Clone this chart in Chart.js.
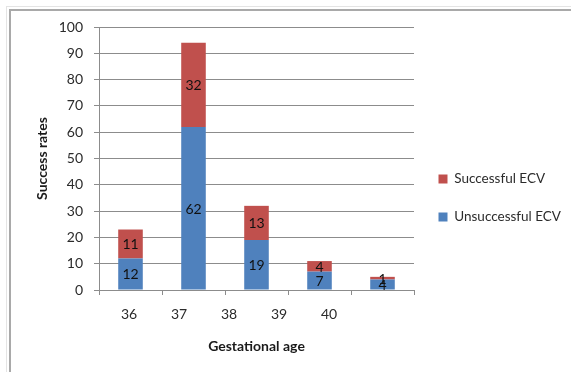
<!DOCTYPE html>
<html>
<head>
<meta charset="utf-8">
<script src="https://cdn.jsdelivr.net/npm/chart.js@4/dist/chart.umd.min.js"></script>
<style>
  html, body { margin: 0; padding: 0; background: #ffffff; }
  #wrap { position: relative; width: 571px; height: 372px; overflow: hidden; }
  .edge { position: absolute; }
  #outerTop { left: 6px; top: 6px; right: 0; height: 1px; background: #e4e4e4; }
  #outerLeft { left: 6px; top: 6px; bottom: 0; width: 1px; background: #e4e4e4; }
  #frameTop { left: 9px; top: 9px; right: 0; height: 2px; background: #a9a9a9; }
  #frameLeft { left: 9px; top: 9px; bottom: 0; width: 2px; background: #a9a9a9; }
  canvas { position: absolute; left: 0; top: 0; }
</style>
</head>
<body>
<div id="wrap">
  <div class="edge" id="outerTop"></div>
  <div class="edge" id="outerLeft"></div>
  <div class="edge" id="frameTop"></div>
  <div class="edge" id="frameLeft"></div>
  <canvas id="chart" width="571" height="372"></canvas>
</div>
<script>
// Gestational age (weeks) for each group of bars
const gestationalAges = [36, 37, 38, 39, 40];
const ageLabels = ['36', '37', '38', '39', '40'];

// ECV outcomes per gestational age
const unsuccessfulECV = [12, 62, 19, 7, 4];
const successfulECV = [11, 32, 13, 4, 1];

// Value axis ticks
const rateTicks = [0, 10, 20, 30, 40, 50, 60, 70, 80, 90, 100];

const FONT = 'Lato, "Open Sans", "Liberation Sans", sans-serif';
const SIZE = 14;
const LEGEND_SIZE = 13.5;
const GRID = '#8c8c8c';
const TEXT = '#2b2b2b';

// Writes each segment's value in the middle of its bar segment
const segmentLabels = {
  id: 'segmentLabels',
  afterDatasetsDraw(chart) {
    const ctx = chart.ctx;
    ctx.save();
    ctx.font = SIZE + 'px ' + FONT;
    ctx.fillStyle = '#111111';
    ctx.textAlign = 'center';
    ctx.textBaseline = 'middle';
    chart.data.datasets.forEach((ds, di) => {
      const meta = chart.getDatasetMeta(di);
      meta.data.forEach((bar, i) => {
        const v = ds.data[i];
        ctx.fillText(String(v), bar.x, (bar.y + bar.base) / 2 + 1);
      });
    });
    ctx.restore();
  }
};

// Right padding so the legend sits just after the plot
const measure = document.createElement('canvas').getContext('2d');
measure.font = LEGEND_SIZE + 'px ' + FONT;
const legendTextWidth = Math.max(
  measure.measureText('Successful ECV').width,
  measure.measureText('Unsuccessful ECV').width
);
const legendPad = 24.5;
const legendWidth = legendPad + 9 + LEGEND_SIZE / 2 + legendTextWidth + 10;
const padRight = Math.max(0, 571 - 414 - legendWidth);

new Chart(document.getElementById('chart'), {
  type: 'bar',
  data: {
    labels: ageLabels,
    datasets: [
      {
        label: 'Unsuccessful ECV',
        data: unsuccessfulECV,
        backgroundColor: '#4f81bd',
        borderWidth: 0,
        categoryPercentage: 1,
        barPercentage: 0.39
      },
      {
        label: 'Successful ECV',
        data: successfulECV,
        backgroundColor: '#c0504d',
        borderWidth: 0,
        categoryPercentage: 1,
        barPercentage: 0.39
      }
    ]
  },
  options: {
    responsive: false,
    animation: false,
    layout: { padding: { left: 20, top: 27, right: padRight, bottom: 3 } },
    plugins: {
      tooltip: { enabled: false },
      legend: {
        position: 'right',
        reverse: true,
        maxWidth: 300,
        labels: {
          boxWidth: 9,
          boxHeight: 9,
          padding: legendPad,
          color: TEXT,
          font: { family: FONT, size: LEGEND_SIZE }
        }
      }
    },
    scales: {
      x: {
        type: 'category',
        stacked: true,
        position: 'bottom',
        weight: 0,
        offset: true,
        grid: {
          offset: true,
          drawOnChartArea: false,
          drawTicks: true,
          tickLength: 5,
          color: GRID
        },
        border: { color: GRID },
        ticks: { display: false },
        afterFit(scale) { scale.height = 5; }
      },
      age: {
        type: 'linear',
        position: 'bottom',
        weight: 1,
        offset: false,
        min: 35.4,
        max: 41.7,
        grid: { display: false, offset: false },
        border: { display: false },
        afterBuildTicks(scale) {
          scale.ticks = gestationalAges.map(v => ({ value: v }));
        },
        ticks: {
          padding: 3,
          color: TEXT,
          font: { family: FONT, size: SIZE },
          callback: (value) => ageLabels[gestationalAges.indexOf(value)]
        },
        title: {
          display: true,
          text: 'Gestational age',
          color: '#1a1a1a',
          font: { family: FONT, size: SIZE, weight: 'bold' },
          padding: { top: 0, bottom: 14 }
        },
        afterFit(scale) { scale.height = 74; }
      },
      y: {
        stacked: true,
        min: 0,
        max: 100,
        afterBuildTicks(scale) {
          scale.ticks = rateTicks.map(v => ({ value: v }));
        },
        grid: { color: GRID, tickLength: 5 },
        border: { color: GRID },
        ticks: {
          padding: 11,
          color: TEXT,
          font: { family: FONT, size: SIZE }
        },
        title: {
          display: true,
          text: 'Success rates',
          color: '#1a1a1a',
          font: { family: FONT, size: SIZE, weight: 'bold' },
          padding: { top: 14, bottom: 0 }
        },
        afterFit(scale) { scale.width = 79; }
      }
    }
  },
  plugins: [segmentLabels]
});
</script>
</body>
</html>
